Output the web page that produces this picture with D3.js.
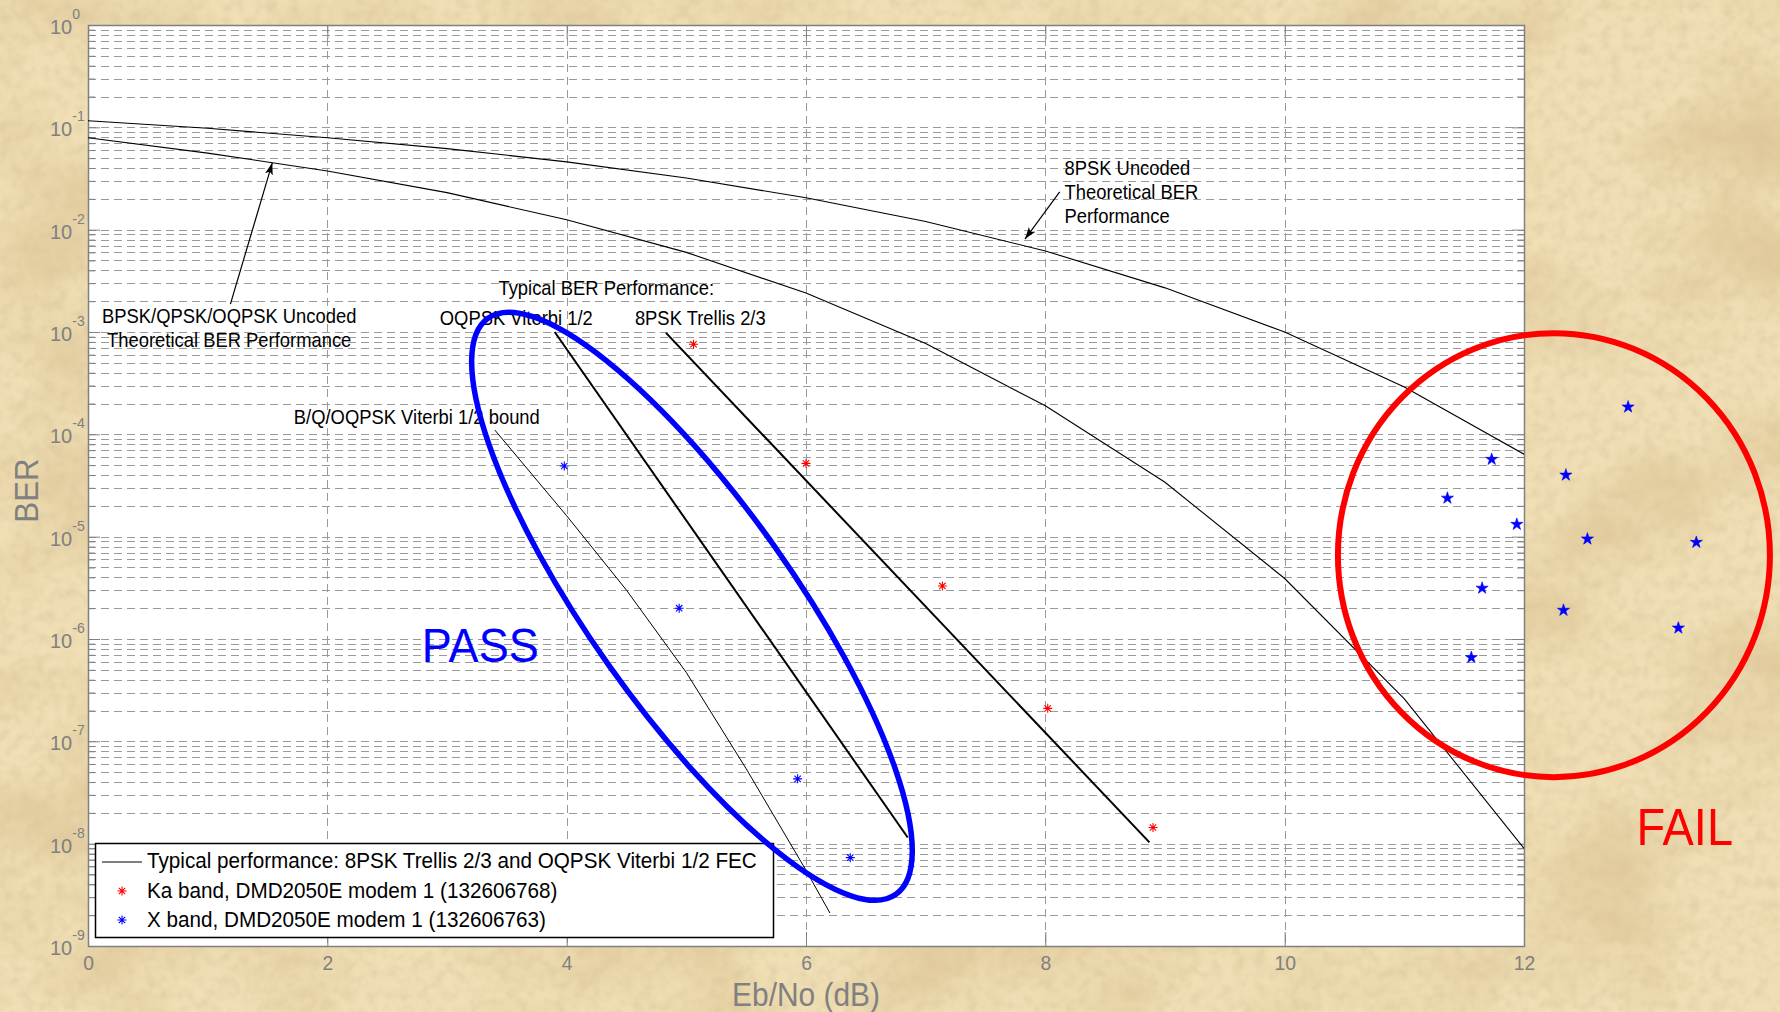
<!DOCTYPE html>
<html>
<head>
<meta charset="utf-8">
<script src="https://cdn.jsdelivr.net/npm/d3@7"></script>
<style>
html, body { margin: 0; padding: 0; background: #ecd9ab; }
svg { display: block; font-family: "Liberation Sans", Arial, Helvetica, sans-serif; }
</style>
</head>
<body>
<div class="chart"></div>
<script>
// ---- values ----
var ebnoGrid = [0, 1, 2, 3, 4, 5, 6, 7, 8, 9, 10, 11, 12];
var berBpskUncoded = [0.079, 0.056, 0.0375, 0.023, 0.0125, 0.006, 0.0024, 7.7e-4, 1.9e-4, 3.4e-5, 3.9e-6, 2.6e-7, 9.0e-9];
var ber8pskUncoded = [0.116, 0.098, 0.079, 0.062, 0.046, 0.032, 0.0205, 0.012, 0.0062, 0.0027, 0.001, 2.9e-4, 6.4e-5];

var oqpskViterbiEbno = [3.9, 6.85];
var oqpskViterbiBer = [1.0e-3, 1.15e-8];
var trellis8pskEbno = [4.83, 8.87];
var trellis8pskBer = [9.8e-4, 1.03e-8];

var viterbiBoundEbno = [3.4, 4.0, 4.5, 5.0, 5.5, 6.0, 6.2];
var viterbiBoundBer = [1.1e-4, 1.6e-5, 3.0e-6, 4.7e-7, 5.4e-8, 5.5e-9, 2.1e-9];

var kaEbno = [5.06, 6.0, 7.14, 8.02, 8.90];
var kaBer = [7.6e-4, 5.2e-5, 3.3e-6, 2.1e-7, 1.44e-8];
var xbandEbno = [3.98, 4.94, 5.93, 6.37];
var xbandBer = [4.9e-5, 2.0e-6, 4.3e-8, 7.3e-9];

var failEbno = [12.87, 11.73, 12.35, 11.36, 11.94, 12.53, 13.44, 11.65, 12.33, 13.29, 11.56];
var failBer = [1.85e-4, 5.7e-5, 4.0e-5, 2.38e-5, 1.32e-5, 9.5e-6, 8.8e-6, 3.14e-6, 1.91e-6, 1.28e-6, 6.6e-7];

var xTicks = [0, 2, 4, 6, 8, 10, 12];
var yExponents = [0, -1, -2, -3, -4, -5, -6, -7, -8, -9];

var legendLabels = [
    "Typical performance: 8PSK Trellis 2/3 and OQPSK Viterbi 1/2 FEC",
    "Ka band, DMD2050E modem 1 (132606768)",
    "X band, DMD2050E modem 1 (132606763)"
];

// annotations, anchored in data units (Eb/No, BER)
var notes = [
    { lines: ["8PSK Uncoded", "Theoretical BER", "Performance"], ebno: 8.16, ber: 0.0342, anchor: "start" },
    { lines: ["BPSK/QPSK/OQPSK Uncoded", "Theoretical BER Performance"], ebno: 1.18, ber: 1.22e-3, anchor: "middle" },
    { lines: ["Typical BER Performance:"], ebno: 3.43, ber: 2.3e-3, anchor: "start" },
    { lines: ["OQPSK Viterbi 1/2"], ebno: 2.94, ber: 1.17e-3, anchor: "start" },
    { lines: ["8PSK Trellis 2/3"], ebno: 4.57, ber: 1.17e-3, anchor: "start" },
    { lines: ["B/Q/OQPSK Viterbi 1/2 bound"], ebno: 1.72, ber: 1.26e-4, anchor: "start" }
];
var arrows = [
    { from: [1.19, 1.87e-3], to: [1.54, 4.5e-2] },
    { from: [8.12, 2.34e-2], to: [7.83, 8.1e-3] }
];
var passEllipse = { ebno: 5.047, ber: 2.09e-6, rx: 353, ry: 102, angle: 54.7 };
var failCircle = { ebno: 12.25, ber: 6.6e-6, rx: 216, ry: 222 };

// ---- layout ----
var dim = { width: 1780, height: 1012, left: 88, top: 25, right: 1524, bottom: 946 };
var squeeze = 0.92; // the original figure text is slightly condensed

var x = d3.scaleLinear().domain([0, 12]).range([dim.left, dim.right]);
var y = d3.scaleLog().domain([1e-9, 1]).range([dim.bottom, dim.top]);

var svg = d3.select(".chart").append("svg")
    .attr("width", dim.width)
    .attr("height", dim.height);

var defs = svg.append("defs");

var paper = defs.append("filter").attr("id", "paper")
    .attr("x", 0).attr("y", 0).attr("width", "100%").attr("height", "100%");
paper.append("feTurbulence")
    .attr("type", "fractalNoise").attr("baseFrequency", "0.006 0.009")
    .attr("numOctaves", 5).attr("seed", 7).attr("result", "big");
paper.append("feColorMatrix").attr("in", "big").attr("type", "matrix")
    .attr("values", "0 0 0 0 0.74  0 0 0 0 0.58  0 0 0 0 0.32  2.2 0 0 0 -0.95")
    .attr("result", "blot");
paper.append("feTurbulence")
    .attr("type", "fractalNoise").attr("baseFrequency", "0.09")
    .attr("numOctaves", 2).attr("seed", 2).attr("result", "fine");
paper.append("feColorMatrix").attr("in", "fine").attr("type", "matrix")
    .attr("values", "0 0 0 0 0.70  0 0 0 0 0.55  0 0 0 0 0.33  1.0 0 0 0 -0.38")
    .attr("result", "grain");
var merge = paper.append("feMerge");
merge.append("feMergeNode").attr("in", "blot");
merge.append("feMergeNode").attr("in", "grain");

defs.append("clipPath").attr("id", "plotClip")
    .append("rect")
    .attr("x", dim.left).attr("y", dim.top)
    .attr("width", dim.right - dim.left).attr("height", dim.bottom - dim.top);

defs.append("marker")
    .attr("id", "head")
    .attr("viewBox", "0 0 12 8")
    .attr("refX", 12).attr("refY", 4)
    .attr("markerWidth", 12).attr("markerHeight", 8)
    .attr("markerUnits", "userSpaceOnUse")
    .attr("orient", "auto")
    .append("path")
    .attr("d", "M0,0 L12,4 L0,8 L3,4 Z")
    .attr("fill", "#000");

// parchment background
svg.append("rect").attr("width", dim.width).attr("height", dim.height).attr("fill", "#f0dfb5");
svg.append("rect").attr("width", dim.width).attr("height", dim.height)
    .attr("fill", "#fff").attr("filter", "url(#paper)");

// plot area
svg.append("rect")
    .attr("x", dim.left).attr("y", dim.top)
    .attr("width", dim.right - dim.left).attr("height", dim.bottom - dim.top)
    .attr("fill", "#fff");

// grid
var minorValues = [];
yExponents.slice(1).forEach(function(e) {
    for (var k = 2; k <= 9; k++) minorValues.push(k * Math.pow(10, e));
});
var decadeValues = yExponents.map(function(e) { return Math.pow(10, e); });

var grid = svg.append("g").attr("class", "grid")
    .attr("stroke", "#9a9a9a").attr("stroke-width", 1).attr("stroke-dasharray", "8,5");

grid.selectAll("line.h")
    .data(minorValues.concat(decadeValues.slice(1, -1)))
    .enter().append("line").attr("class", "h")
    .attr("x1", dim.left).attr("x2", dim.right)
    .attr("y1", function(d) { return Math.round(y(d)) + 0.5; })
    .attr("y2", function(d) { return Math.round(y(d)) + 0.5; });

grid.selectAll("line.v")
    .data(xTicks.slice(1, -1))
    .enter().append("line").attr("class", "v")
    .attr("y1", dim.top).attr("y2", dim.bottom)
    .attr("x1", function(d) { return Math.round(x(d)) + 0.5; })
    .attr("x2", function(d) { return Math.round(x(d)) + 0.5; });

// axes (ticks inside, MATLAB style)
function styleAxis(g) {
    g.select(".domain").remove();
    g.selectAll(".tick line").attr("stroke", "#808080");
}

svg.append("g").attr("transform", "translate(0," + dim.bottom + ")")
    .call(d3.axisBottom(x).tickValues(xTicks).tickSize(-14).tickSizeOuter(0)
        .tickPadding(9).tickFormat(d3.format("d")))
    .call(styleAxis)
    .call(function(g) {
        g.selectAll(".tick text")
            .attr("fill", "#808080")
            .attr("font-size", 21)
            .attr("font-family", "Liberation Sans, Arial, sans-serif")
            .attr("transform", "scale(" + squeeze + ",1)");
    });

svg.append("g").attr("transform", "translate(0," + dim.top + ")")
    .call(d3.axisTop(x).tickValues(xTicks).tickSize(-14).tickSizeOuter(0).tickFormat(""))
    .call(styleAxis);

svg.append("g").attr("transform", "translate(" + dim.left + ",0)")
    .call(d3.axisLeft(y).tickValues(decadeValues).tickSize(-12).tickSizeOuter(0).tickFormat(""))
    .call(styleAxis);
svg.append("g").attr("transform", "translate(" + dim.left + ",0)")
    .call(d3.axisLeft(y).tickValues(minorValues).tickSize(-7).tickSizeOuter(0).tickFormat(""))
    .call(styleAxis);
svg.append("g").attr("transform", "translate(" + dim.right + ",0)")
    .call(d3.axisRight(y).tickValues(decadeValues).tickSize(-12).tickSizeOuter(0).tickFormat(""))
    .call(styleAxis);
svg.append("g").attr("transform", "translate(" + dim.right + ",0)")
    .call(d3.axisRight(y).tickValues(minorValues).tickSize(-7).tickSizeOuter(0).tickFormat(""))
    .call(styleAxis);

svg.append("rect")
    .attr("x", dim.left + 0.5).attr("y", dim.top + 0.5)
    .attr("width", dim.right - dim.left).attr("height", dim.bottom - dim.top)
    .attr("fill", "none").attr("stroke", "#808080").attr("stroke-width", 1.5);

// y tick labels 10^n
var yLabels = svg.append("g").attr("fill", "#808080");
yExponents.forEach(function(e) {
    var t = yLabels.append("text")
        .attr("x", 50)
        .attr("y", y(Math.pow(10, e)) + 9);
    t.append("tspan").attr("font-size", 20).text("10");
    t.append("tspan").attr("font-size", 14).attr("dy", -15).text(e);
});

// axis titles
svg.append("text")
    .attr("transform", "translate(38," + ((dim.top + dim.bottom) / 2 + 5) + ") rotate(-90) scale(" + squeeze + ",1)")
    .attr("text-anchor", "middle")
    .attr("fill", "#808080")
    .attr("font-size", 34)
    .text("BER");

svg.append("text")
    .attr("transform", "translate(" + ((dim.left + dim.right) / 2) + ",1006) scale(" + squeeze + ",1)")
    .attr("text-anchor", "middle")
    .attr("fill", "#808080")
    .attr("font-size", 32.5)
    .text("Eb/No (dB)");

// curves
var line = d3.line()
    .x(function(d) { return x(d[0]); })
    .y(function(d) { return y(d[1]); });

var curves = svg.append("g").attr("clip-path", "url(#plotClip)").attr("fill", "none").attr("stroke", "#000");

curves.append("path").datum(d3.zip(ebnoGrid, ber8pskUncoded))
    .attr("d", line).attr("stroke-width", 1.1);
curves.append("path").datum(d3.zip(ebnoGrid, berBpskUncoded))
    .attr("d", line).attr("stroke-width", 1.1);
curves.append("path").datum(d3.zip(viterbiBoundEbno, viterbiBoundBer))
    .attr("d", line).attr("stroke-width", 1);
curves.append("path").datum(d3.zip(oqpskViterbiEbno, oqpskViterbiBer))
    .attr("d", line).attr("stroke-width", 2);
curves.append("path").datum(d3.zip(trellis8pskEbno, trellis8pskBer))
    .attr("d", line).attr("stroke-width", 2);

// asterisk markers
function asterisk(r) {
    var d = "";
    for (var i = 0; i < 4; i++) {
        var a = i * Math.PI / 4;
        var cx = Math.sin(a) * r, cy = Math.cos(a) * r;
        d += "M" + (-cx) + "," + (-cy) + "L" + cx + "," + cy;
    }
    return d;
}

function drawAsterisks(g, xs, ys, color) {
    g.selectAll(null).data(d3.zip(xs, ys)).enter().append("path")
        .attr("transform", function(d) { return "translate(" + x(d[0]) + "," + y(d[1]) + ")"; })
        .attr("d", asterisk(4.5))
        .attr("stroke", color).attr("stroke-width", 1.1).attr("fill", "none");
}

var points = svg.append("g");
drawAsterisks(points, kaEbno, kaBer, "#ff0000");
drawAsterisks(points, xbandEbno, xbandBer, "#0000ff");

points.selectAll("path.star").data(d3.zip(failEbno, failBer)).enter().append("path")
    .attr("class", "star")
    .attr("transform", function(d) { return "translate(" + x(d[0]) + "," + y(d[1]) + ")"; })
    .attr("d", d3.symbol(d3.symbolStar, 46))
    .attr("fill", "#0000ff").attr("stroke", "#0000ff").attr("stroke-width", 0.6);

// annotation text and arrows
var ann = svg.append("g").attr("fill", "#000").attr("font-size", 20);
notes.forEach(function(n) {
    n.lines.forEach(function(s, i) {
        ann.append("text")
            .attr("transform", "translate(" + x(n.ebno) + "," + (y(n.ber) + i * 24) + ") scale(" + squeeze + ",1)")
            .attr("text-anchor", n.anchor)
            .text(s);
    });
});

svg.append("g").selectAll("line").data(arrows).enter().append("line")
    .attr("x1", function(d) { return x(d.from[0]); })
    .attr("y1", function(d) { return y(d.from[1]); })
    .attr("x2", function(d) { return x(d.to[0]); })
    .attr("y2", function(d) { return y(d.to[1]); })
    .attr("stroke", "#000").attr("stroke-width", 1.2)
    .attr("marker-end", "url(#head)");

// legend
var legend = svg.append("g").attr("transform", "translate(95,843)");
legend.append("rect")
    .attr("x", 0.5).attr("y", 0.5).attr("width", 678).attr("height", 94)
    .attr("fill", "#fff").attr("stroke", "#000").attr("stroke-width", 1.5);
legend.append("line")
    .attr("x1", 7).attr("x2", 47).attr("y1", 19).attr("y2", 19)
    .attr("stroke", "#000").attr("stroke-width", 1);
legend.append("path").attr("transform", "translate(27,48)").attr("d", asterisk(4.5))
    .attr("stroke", "#ff0000").attr("stroke-width", 1.1);
legend.append("path").attr("transform", "translate(27,77)").attr("d", asterisk(4.5))
    .attr("stroke", "#0000ff").attr("stroke-width", 1.1);
legend.selectAll("text").data(legendLabels).enter().append("text")
    .attr("transform", function(d, i) { return "translate(52," + (25 + i * 29.5) + ") scale(0.94,1)"; })
    .attr("font-size", 22)
    .attr("fill", "#000")
    .text(function(d) { return d; });

// PASS ellipse and FAIL circle
svg.append("ellipse")
    .attr("transform", "translate(" + x(passEllipse.ebno) + "," + y(passEllipse.ber) + ") rotate(" + passEllipse.angle + ")")
    .attr("rx", passEllipse.rx).attr("ry", passEllipse.ry)
    .attr("fill", "none").attr("stroke", "#0000ff").attr("stroke-width", 5.5);

svg.append("ellipse")
    .attr("cx", x(failCircle.ebno)).attr("cy", y(failCircle.ber))
    .attr("rx", failCircle.rx).attr("ry", failCircle.ry)
    .attr("fill", "none").attr("stroke", "#ff0000").attr("stroke-width", 6);

svg.append("text")
    .attr("transform", "translate(" + x(2.79) + "," + y(5.93e-7) + ") scale(" + squeeze + ",1)")
    .attr("font-size", 49).attr("fill", "#0000ff")
    .text("PASS");

svg.append("text")
    .attr("transform", "translate(" + x(12.94) + "," + y(9.6e-9) + ") scale(" + squeeze + ",1)")
    .attr("font-size", 51).attr("fill", "#ff0000")
    .text("FAIL");
</script>
</body>
</html>
